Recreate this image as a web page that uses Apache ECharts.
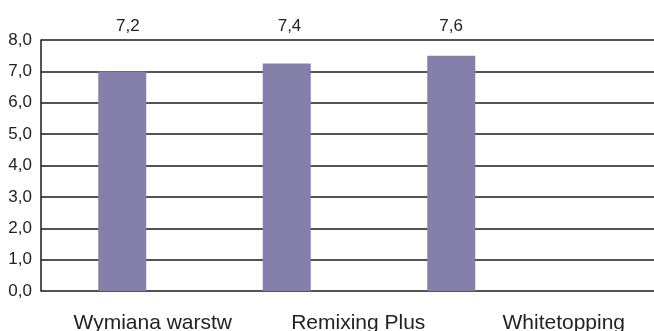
<!DOCTYPE html>
<html>
<head>
<meta charset="utf-8">
<style>
  html, body { margin: 0; padding: 0; background: #ffffff; }
  #chart { width: 654px; height: 331px; }
</style>
<script src="https://cdn.jsdelivr.net/npm/echarts@6/dist/echarts.min.js"></script>
</head>
<body>
<div id="chart"></div>
<script>
  // dane
  const categories = ['Wymiana warstw', 'Remixing Plus', 'Whitetopping'];
  const values = [7.0, 7.25, 7.5];
  const topLabels = ['7,2', '7,4', '7,6'];

  const fmt = function (v) { return v.toFixed(1).replace('.', ','); };

  const hiddenX = function (gi) {
    return { gridIndex: gi, type: 'value', min: 0, max: 1, show: false };
  };
  const hiddenY = function (gi) {
    return { gridIndex: gi, type: 'value', min: 0, max: 8, interval: 1, show: false, splitLine: { show: false } };
  };

  let myChart = echarts.init(document.getElementById('chart'));
  let option = {
    animation: false,
    textStyle: { fontFamily: 'Liberation Sans, Arial, sans-serif' },
    grid: [
      // 0: siatka z liniami do prawej krawedzi
      { left: 41, right: 0, top: 40, height: 251, outerBoundsMode: 'none' },
      // 1: slupki
      { left: 40, width: 493.5, top: 40, height: 251, outerBoundsMode: 'none' },
      // 2: podpisy kategorii (przesuniete jak w oryginale)
      { left: 50, width: 616.5, top: 40, height: 251, outerBoundsMode: 'none' },
      // 3: wartosci nad wykresem
      { left: 47, width: 485, top: 40, height: 251, outerBoundsMode: 'none' }
    ],
    xAxis: [
      hiddenX(0),
      {
        gridIndex: 1,
        type: 'category',
        data: categories,
        axisLine: { show: false },
        axisTick: { show: false },
        axisLabel: { show: false },
        splitLine: { show: false }
      },
      {
        gridIndex: 2,
        type: 'category',
        data: categories,
        axisLine: { show: false },
        axisTick: { show: false },
        axisLabel: { fontSize: 21, color: '#222', margin: 22, interval: 0 }
      },
      {
        gridIndex: 3,
        type: 'category',
        position: 'top',
        data: topLabels,
        axisLine: { show: false },
        axisTick: { show: false },
        axisLabel: { fontSize: 17, color: '#222', margin: 5, interval: 0 }
      }
    ],
    yAxis: [
      {
        gridIndex: 0,
        type: 'value',
        min: 0,
        max: 8,
        interval: 1,
        axisLine: { show: true, lineStyle: { color: '#1a1a1a', width: 1.5 } },
        axisTick: { show: false },
        axisLabel: { fontSize: 17, color: '#222', margin: 9, formatter: fmt },
        splitLine: { show: true, lineStyle: { color: '#1a1a1a', width: 1.5 } }
      },
      hiddenY(1),
      hiddenY(2),
      hiddenY(3)
    ],
    series: [
      {
        type: 'bar',
        xAxisIndex: 1,
        yAxisIndex: 1,
        data: values,
        barWidth: 48,
        itemStyle: { color: '#8480aa' }
      }
    ]
  };
  myChart.setOption(option);
</script>
</body>
</html>
